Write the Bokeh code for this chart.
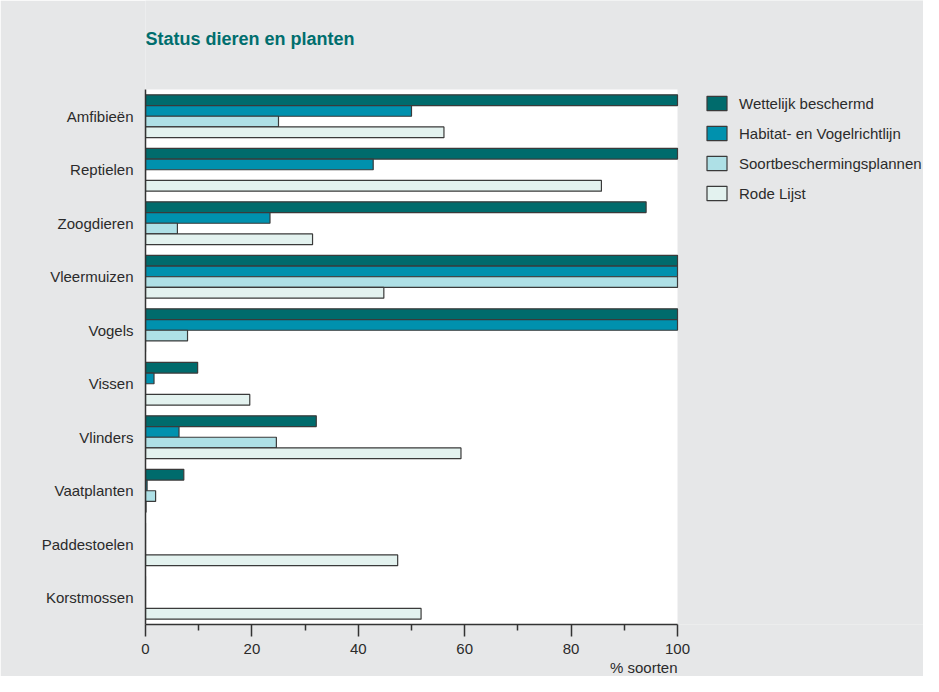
from bokeh.plotting import figure
from bokeh.models import (ColumnDataSource, FixedTicker, Legend, LegendItem, Range1d,
                          Title, Label, BoxAnnotation)
from bokeh.transform import dodge
from bokeh.embed import file_html
from bokeh.resources import INLINE

categories = ["Amfibieën", "Reptielen", "Zoogdieren", "Vleermuizen", "Vogels",
              "Vissen", "Vlinders", "Vaatplanten", "Paddestoelen", "Korstmossen"]
wettelijk = [100, 100, 94.1, 100, 100, 9.8, 32.1, 7.2, 0, 0]
habitat = [50, 42.8, 23.4, 100, 100, 1.6, 6.3, 0.3, 0, 0]
soortbescherming = [25, 0, 6.0, 100, 7.9, 0, 24.6, 1.9, 0, 0]
rode_lijst = [56.1, 85.7, 31.4, 44.8, 0, 19.6, 59.3, 0.1, 47.4, 51.8]
series_names = ["Wettelijk beschermd", "Habitat- en Vogelrichtlijn",
                "Soortbeschermingsplannen", "Rode Lijst"]
x_ticks = [0, 20, 40, 60, 80, 100]
x_minor = [10, 30, 50, 70, 90]

FONT = "Liberation Sans"
BG = "#e6e7e8"
TEXT = "#2b2b2b"
colors = ["#006b6c", "#0091ae", "#aee0e6", "#e3f2ef"]
offsets = [0.3, 0.1, -0.1, -0.3]

W, H = 923, 676
LEFT, BOTTOM = 145, 52
FRAME_W, FRAME_H = W - LEFT, H - BOTTOM
PX_PER_PCT = 5.32
PX_PER_CAT = 53.5
n = len(categories)

# category slot positions (top category highest)
cat_pos = [n - 0.5 - i for i in range(n)]
source = ColumnDataSource(dict(pos=cat_pos, s0=wettelijk, s1=habitat,
                               s2=soortbescherming, s3=rode_lijst))

p = figure(width=W, height=H, x_range=Range1d(0, FRAME_W / PX_PER_PCT),
           y_range=Range1d(0, FRAME_H / PX_PER_CAT),
           output_backend="svg", toolbar_location=None,
           min_border_left=LEFT, min_border_right=0, min_border_top=0,
           min_border_bottom=BOTTOM)
p.border_fill_color = BG
p.background_fill_color = BG
p.outline_line_color = None
p.grid.visible = False

p.add_layout(BoxAnnotation(left=0, right=100, bottom=0, top=n, fill_color="white",
                           fill_alpha=1, line_color=None, level="underlay"))

items = []
for i, name in enumerate(series_names):
    r = p.hbar(y=dodge("pos", offsets[i]), left=0, right="s%d" % i, height=0.2,
               source=source, fill_color=colors[i], line_color="#3a3a3a", line_width=1.2)
    items.append(LegendItem(label=name, renderers=[r]))

xa = p.xaxis[0]
xa.bounds = (0, 100)
xa.ticker = FixedTicker(ticks=x_ticks, minor_ticks=x_minor)
xa.major_tick_in = 0
xa.major_tick_out = 12
xa.minor_tick_in = 0
xa.minor_tick_out = 6
xa.axis_line_width = 1.5
xa.axis_line_color = "#333333"
xa.major_tick_line_color = "#333333"
xa.minor_tick_line_color = "#333333"
xa.major_tick_line_width = 1.5
xa.minor_tick_line_width = 1.5
xa.major_label_text_font = FONT
xa.major_label_text_font_size = "15px"
xa.major_label_text_color = TEXT
xa.major_label_standoff = 7

ya = p.yaxis[0]
ya.bounds = (0, n)
ya.ticker = FixedTicker(ticks=cat_pos, minor_ticks=[])
ya.major_label_overrides = {pos: name for pos, name in zip(cat_pos, categories)}
ya.major_tick_out = 0
ya.major_tick_in = 0
ya.minor_tick_out = 0
ya.axis_line_width = 1.5
ya.axis_line_color = "#333333"
ya.major_label_text_font = FONT
ya.major_label_text_font_size = "15px"
ya.major_label_text_color = TEXT
ya.major_label_standoff = 12

legend = Legend(items=items, location=(559, 422), glyph_width=25, glyph_height=18,
                label_standoff=10, spacing=12, padding=0, margin=0,
                border_line_color=None, background_fill_alpha=0,
                label_text_font=FONT, label_text_font_size="15px",
                label_text_color=TEXT, label_height=18)
p.add_layout(legend)

p.add_layout(Label(x=0, y=n, y_offset=51, text="Status dieren en planten",
                   text_align="left", text_baseline="middle", text_font=FONT,
                   text_font_size="18px", text_font_style="bold", text_color="#006e6e"))

p.add_layout(Title(text="% soorten", align="right", offset=(FRAME_W - 100 * PX_PER_PCT),
                   text_font=FONT, text_font_size="15px", text_font_style="normal",
                   text_color=TEXT, standoff=0), "below")

open("out.html", "w").write(file_html(p, INLINE))
